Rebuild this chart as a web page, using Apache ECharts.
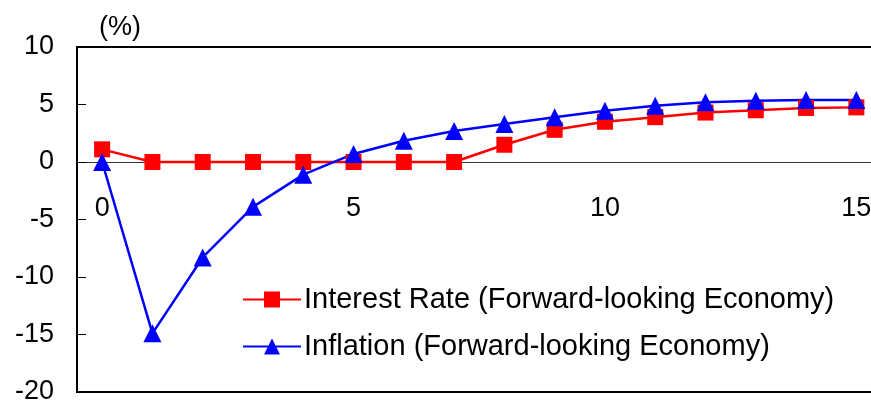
<!DOCTYPE html>
<html>
<head>
<meta charset="utf-8">
<script src="https://cdn.jsdelivr.net/npm/echarts@6/dist/echarts.min.js"></script>
<style>html,body{margin:0;padding:0;background:#fff;}#c{width:871px;height:409px;}</style>
</head>
<body>
<div id="c"></div>
<script>
const categories = ['0','1','2','3','4','5','6','7','8','9','10','11','12','13','14','15'];
const interestRate = [1.1, 0, 0, 0, 0, 0, 0, 0, 1.5, 2.8, 3.5, 3.9, 4.3, 4.5, 4.7, 4.75];
const inflation = [0, -14.9, -8.3, -3.9, -1.1, 0.7, 1.85, 2.7, 3.3, 3.9, 4.45, 4.9, 5.2, 5.33, 5.4, 5.4];
const seriesNames = ['Interest Rate (Forward-looking Economy)', 'Inflation (Forward-looking Economy)'];
const yTicks = {min: -20, max: 10, interval: 5};

const font = 'Liberation Sans, Arial, sans-serif';
// plot area geometry
const G = {left: 77, top: 47, right: -10.5, bottom: 17, H: 409};
const plotH = G.H - G.top - G.bottom;
const zeroY = G.top + plotH * (yTicks.max - 0) / (yTicks.max - yTicks.min);

const chart = echarts.init(document.getElementById('c'));
chart.setOption({
  animation: false,
  backgroundColor: '#fff',
  title: {
    text: '(%)', left: 94, top: 9,
    textStyle: {fontFamily: font, fontSize: 27, fontWeight: 'normal', color: '#000'}
  },
  grid: [
    {
      left: G.left, top: G.top, right: G.right, bottom: G.bottom,
      show: true, borderColor: '#000', borderWidth: 2,
      containLabel: false, outerBoundsMode: 'none'
    },
    {
      left: G.left, top: G.top, right: G.right, bottom: G.H - zeroY,
      show: false, containLabel: false, outerBoundsMode: 'none'
    }
  ],
  legend: {
    orient: 'vertical', left: 237, top: 279,
    itemWidth: 58, itemHeight: 20, itemGap: 16,
    textStyle: {fontFamily: font, fontSize: 29, color: '#000', lineHeight: 31, padding: [0,0,0,-2]},
    data: seriesNames
  },
  xAxis: [
    {
      gridIndex: 0, type: 'category', data: categories, boundaryGap: true,
      axisLine: {show: false}, axisTick: {show: false}, axisLabel: {show: false},
      splitLine: {show: false}
    },
    {
      gridIndex: 1, type: 'category', data: categories, boundaryGap: true, position: 'bottom',
      axisLine: {show: true, onZero: false, lineStyle: {color: '#333', width: 1}},
      axisTick: {inside: true, length: 8, interval: 0, lineStyle: {color: '#333'}},
      axisLabel: {interval: 4, margin: 33, fontFamily: font, fontSize: 27, color: '#000'},
      splitLine: {show: false}
    }
  ],
  yAxis: [
    {
      gridIndex: 0, type: 'value', min: yTicks.min, max: yTicks.max, interval: yTicks.interval,
      axisLine: {show: true, lineStyle: {color: '#000', width: 2}},
      axisTick: {show: true, inside: true, length: 9, lineStyle: {color: '#000'}},
      axisLabel: {margin: 23, fontFamily: font, fontSize: 27, color: '#000'},
      splitLine: {show: false}
    },
    {
      gridIndex: 1, type: 'value', min: 0, max: yTicks.max, show: false
    }
  ],
  series: [
    {
      name: seriesNames[0], type: 'line', data: interestRate,
      xAxisIndex: 0, yAxisIndex: 0,
      symbol: 'rect', symbolSize: 16,
      lineStyle: {color: '#ff0000', width: 2.5},
      itemStyle: {color: '#ff0000'}
    },
    {
      name: seriesNames[1], type: 'line', data: inflation,
      xAxisIndex: 0, yAxisIndex: 0,
      symbol: 'triangle', symbolSize: 18,
      lineStyle: {color: '#0000ff', width: 2.5},
      itemStyle: {color: '#0000ff'}
    }
  ]
});
</script>
</body>
</html>
